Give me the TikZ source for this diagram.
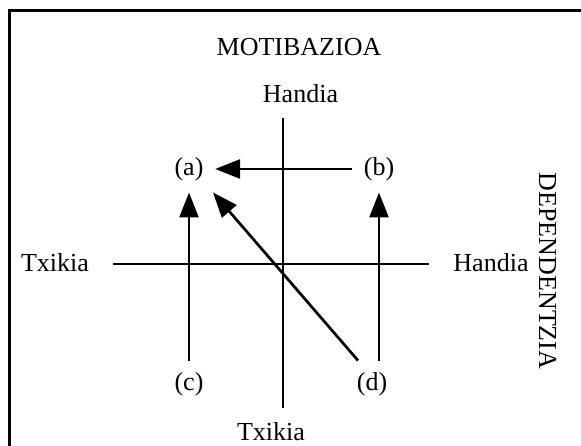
\documentclass[tikz,border=0pt]{standalone}
\usepackage{fontspec}
\setmainfont{Liberation Serif}
\usetikzlibrary{arrows.meta}
\begin{document}
\begin{tikzpicture}[x=1pt,y=-1pt,
  lbl/.style={font=\fontsize{26}{31}\selectfont, inner sep=0pt},
  pt/.style={font=\fontsize{26}{31}\selectfont, inner sep=11.5pt},
  axis/.style={line width=2.7pt},
  arr/.style={line width=2.7pt, -{Triangle[length=25pt,width=19pt]}}]
\useasboundingbox (0,0) rectangle (581,445);
\clip (0,0) rectangle (581,445);
\draw[line width=2.2pt] (9.5,10.5) rectangle (600,470);
% axes
\coordinate (vt) at (283,118);
\coordinate (vb) at (283,408);
\coordinate (hl) at (113,264);
\coordinate (hr) at (429,264);
\draw[axis] (vt) -- (vb);
\draw[axis] (hl) -- (hr);
% labels
\node[lbl, anchor=base] (mot) at (299,55) {MOTIBAZIOA};
\node[lbl, anchor=base] (hup) at (300.5,102) {Handia};
\node[lbl, anchor=base] (tdown) at (271,440) {Txikia};
\node[lbl, anchor=base] (tleft) at (55,271) {Txikia};
\node[lbl, anchor=base] (hright) at (491,271) {Handia};
\node[lbl, anchor=base, rotate=-90] (dep) at (539,271) {DEPENDENTZIA};
% points
\node[pt] (a) at (189,169) {(a)};
\node[pt] (b) at (379,169) {(b)};
\node[pt] (c) at (189,384) {(c)};
\node[pt] (d) at (372,384) {(d)};
% arrows
\draw[arr] (b.west) -- (a.east);
\draw[arr] (c.north) -- (a.south);
\draw[arr] ([xshift=7pt]d.north) -- (b.south);
\draw[arr] ([xshift=-14pt]d.north) -- ([xshift=24pt]a.south);
\end{tikzpicture}
\end{document}
